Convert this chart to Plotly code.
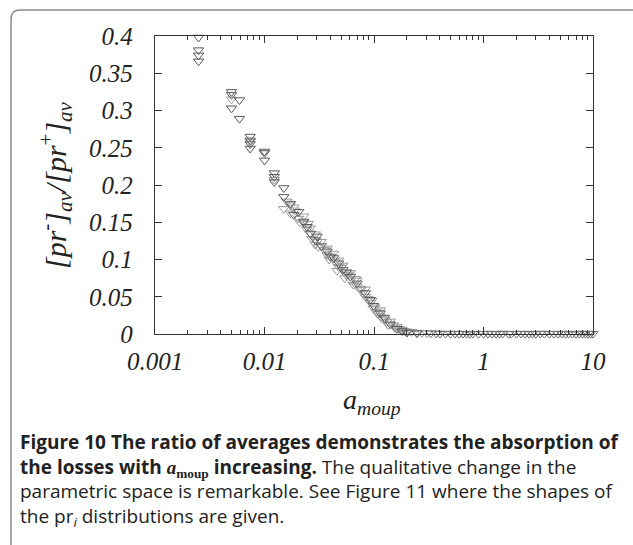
import plotly.graph_objects as go

# ---------------- data ----------------
dark_x = [0.0025, 0.0025, 0.0025, 0.0025,
          0.0050, 0.0050, 0.0050, 0.0059, 0.0059,
          0.0074, 0.0074, 0.0074, 0.0074,
          0.0100, 0.0100, 0.0100,
          0.0123, 0.0123, 0.0123, 0.0150, 0.0150,
          0.0172, 0.0185, 0.0205, 0.0228, 0.0244, 0.0262, 0.0291, 0.0302,
          0.0330, 0.0373, 0.0400, 0.0428, 0.0475, 0.0520, 0.0560, 0.0608,
          0.0700, 0.0834, 0.0925, 0.0990, 0.1140, 0.1250, 0.1410, 0.1620,
          0.1800, 0.2000, 0.2470]
dark_y = [0.398, 0.381, 0.374, 0.366,
          0.325, 0.321, 0.303, 0.314, 0.289,
          0.265, 0.260, 0.255, 0.249,
          0.245, 0.243, 0.233,
          0.216, 0.211, 0.204, 0.196, 0.184,
          0.175, 0.160, 0.164, 0.151, 0.144, 0.135, 0.126, 0.131,
          0.118, 0.111, 0.104, 0.102, 0.095, 0.086, 0.083, 0.077,
          0.068, 0.055, 0.046, 0.038, 0.028, 0.022, 0.013, 0.007,
          0.004, 0.002, 0.001]

light_x = [0.0050, 0.0074, 0.0123, 0.0150,
           0.0160, 0.0172, 0.0172, 0.0185, 0.0190, 0.0205, 0.0210, 0.0228,
           0.0228, 0.0244, 0.0250, 0.0262, 0.0270, 0.0291, 0.0291, 0.0302,
           0.0310, 0.0330, 0.0350, 0.0373, 0.0373, 0.0390, 0.0428, 0.0440,
           0.0460, 0.0475, 0.0475, 0.0500, 0.0520, 0.0540, 0.0560, 0.0580,
           0.0608, 0.0608, 0.0650, 0.0680, 0.0700, 0.0700, 0.0750, 0.0760,
           0.0790, 0.0834, 0.0834, 0.0880, 0.0925, 0.0960, 0.0990, 0.1020,
           0.1050, 0.1080, 0.1140, 0.1140, 0.1180, 0.1250, 0.1310, 0.1350,
           0.1410, 0.1500, 0.1550, 0.1620, 0.1700, 0.1800, 0.1900, 0.2000,
           0.2200, 0.2470, 0.2750, 0.3050]
light_y = [0.315, 0.258, 0.207, 0.168,
           0.178, 0.162, 0.173, 0.170, 0.166, 0.155, 0.150, 0.149,
           0.158, 0.140, 0.148, 0.142, 0.128, 0.134, 0.120, 0.124,
           0.117, 0.124, 0.113, 0.115, 0.106, 0.100, 0.108, 0.097,
           0.085, 0.099, 0.090, 0.089, 0.092, 0.075, 0.079, 0.080,
           0.082, 0.072, 0.066, 0.074, 0.072, 0.064, 0.061, 0.060,
           0.055, 0.060, 0.050, 0.047, 0.042, 0.045, 0.034, 0.036,
           0.030, 0.027, 0.032, 0.024, 0.021, 0.019, 0.016, 0.012,
           0.017, 0.012, 0.008, 0.010, 0.007, 0.006, 0.004, 0.0035,
           0.003, 0.002, 0.0015, 0.0013]

tail_x = [0.33, 0.37, 0.40, 0.45, 0.50, 0.55, 0.60, 0.65, 0.70, 0.75,
          0.80, 0.90, 1.0, 1.1, 1.2, 1.3, 1.4, 1.5, 1.7, 1.8, 2.0, 2.2,
          2.4, 2.6, 2.8, 3.0, 3.3, 3.6, 4.0, 4.4, 4.8, 5.2, 5.6, 6.0,
          6.5, 7.0, 7.5, 8.0, 8.5, 9.0, 9.5, 10.0]
tail_y = [0.0010, 0.0008, 0.0006, 0.0005, 0.0004, 0.0006, 0.0003, 0.0005,
          0.0004, 0.0003, 0.0005, 0.0003, 0.0004, 0.0006, 0.0003, 0.0005,
          0.0004, 0.0007, 0.0003, 0.0005, 0.0004, 0.0006, 0.0003, 0.0005,
          0.0004, 0.0003, 0.0006, 0.0004, 0.0005, 0.0003, 0.0004, 0.0006,
          0.0003, 0.0005, 0.0004, 0.0003, 0.0006, 0.0004, 0.0005, 0.0003,
          0.0004, 0.0005]

x_tickvals = [0.001, 0.01, 0.1, 1, 10]
x_ticktext = ["0.001", "0.01", "0.1", "1", "10"]
y_tickvals = [0, 0.05, 0.1, 0.15, 0.2, 0.25, 0.3, 0.35, 0.4]
y_ticktext = ["0", "0.05", "0.1", "0.15", "0.2", "0.25", "0.3", "0.35", "0.4"]

caption_lines = [
    "<b>Figure 10 The ratio of averages demonstrates the absorption of</b>",
    "<b>the losses with <span style=\"font-family:'Liberation Serif'\"><i>a</i><sub>moup</sub></span> increasing.</b> The qualitative change in the",
    "parametric space is remarkable. See Figure 11 where the shapes of",
    "the pr<sub><i>i</i></sub> distributions are given.",
]

# ---------------- layout geometry ----------------
W, H = 633, 545
L, R, T, B = 155, 40, 36, 211
PW, PH = W - L - R, H - T - B


def px(xp):
    return (xp - L) / PW


def py(yp):
    return (H - B - yp) / PH


minor_vals = [m * 10 ** k for k in range(-3, 1) for m in range(2, 10)]

marker_common = dict(symbol="triangle-down-open", size=9)

fig = go.Figure()
fig.add_trace(go.Scatter(x=light_x, y=light_y, mode="markers",
                         marker=dict(**marker_common, color="#9a9a9a", line=dict(width=1, color="#9a9a9a")),
                         showlegend=False, cliponaxis=False))
fig.add_trace(go.Scatter(x=tail_x, y=tail_y, mode="markers",
                         marker=dict(**marker_common, color="#707070", line=dict(width=1, color="#707070")),
                         showlegend=False, cliponaxis=False))
fig.add_trace(go.Scatter(x=dark_x, y=dark_y, mode="markers",
                         marker=dict(**marker_common, color="#5a5a5a", line=dict(width=1, color="#5a5a5a")),
                         showlegend=False, cliponaxis=False))

tickfont = dict(family="Liberation Serif", size=25, color="#222", style="italic")

fig.update_xaxes(type="log", range=[-3, 1], tickvals=x_tickvals, ticktext=x_ticktext,
                 showline=True, linecolor="#333", linewidth=1.3, mirror="ticks",
                 ticks="inside", ticklen=7, tickwidth=1, tickcolor="#333",
                 minor=dict(tickvals=minor_vals, ticks="inside", ticklen=4, tickcolor="#333", showgrid=False),
                 showgrid=False, zeroline=False, tickfont=tickfont, ticklabelstandoff=5)
fig.update_yaxes(range=[0, 0.4], tickvals=y_tickvals, ticktext=y_ticktext,
                 showline=True, linecolor="#333", linewidth=1.3, mirror="ticks",
                 ticks="inside", ticklen=7, tickwidth=1, tickcolor="#333",
                 showgrid=False, zeroline=False, tickfont=tickfont, ticklabelstandoff=16)

annotations = [
    dict(text="<i>a</i><sub><i>moup</i></sub>", x=px(372), y=py(402), xref="paper", yref="paper",
         showarrow=False, xanchor="center", yanchor="middle",
         font=dict(family="Liberation Serif", size=28, color="#222")),
    dict(text="<i>[pr</i><sup>-</sup><i>]</i><sub><i>av</i></sub><i>/[pr</i><sup>+</sup><i>]</i><sub><i>av</i></sub>",
         x=px(55), y=py(185), xref="paper", yref="paper", textangle=-90,
         showarrow=False, xanchor="center", yanchor="middle",
         font=dict(family="Liberation Serif", size=30, color="#222")),
    dict(text="<br>".join(caption_lines), x=px(18), y=py(480), xref="paper", yref="paper",
         showarrow=False, xanchor="left", yanchor="middle", align="left",
         font=dict(family="Open Sans", size=19, color="#222")),
]

# outer frame with rounded top-left corner
r = 9
fx0, fy0 = 11, 10
path = (f"M {px(fx0)},{py(H + 5)} L {px(fx0)},{py(fy0 + r)} "
        f"Q {px(fx0)},{py(fy0)} {px(fx0 + r)},{py(fy0)} L {px(W + 5)},{py(fy0)}")

fig.update_layout(
    width=W, height=H, margin=dict(l=L, r=R, t=T, b=B),
    paper_bgcolor="white", plot_bgcolor="white",
    annotations=annotations,
    shapes=[dict(type="path", path=path, xref="paper", yref="paper",
                 line=dict(color="#8a8a8a", width=1.5))],
)

fig.write_html("out.html")
